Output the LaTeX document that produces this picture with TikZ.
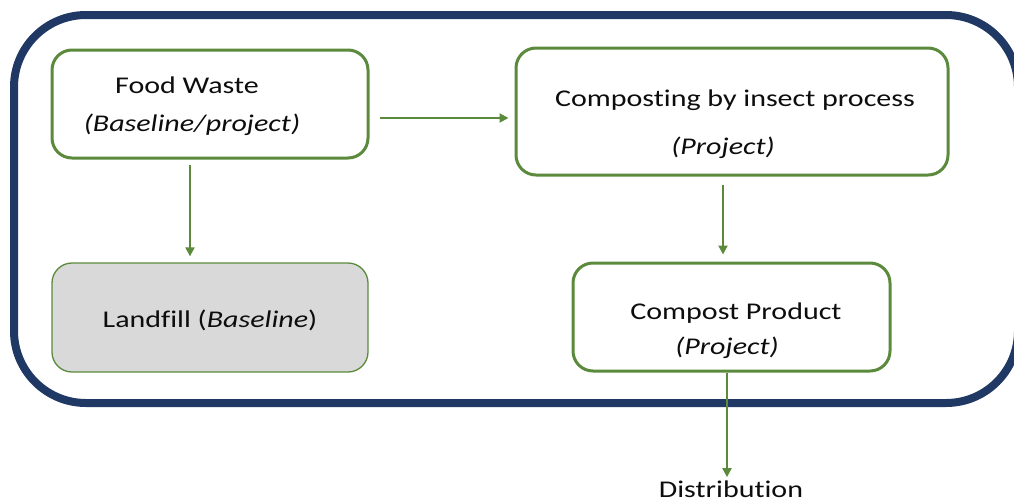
\documentclass[tikz,border=0pt]{standalone}
\usepackage{fontspec}
\setmainfont{Carlito}[FakeStretch=1.25,Ligatures=NoCommon]
\usetikzlibrary{arrows.meta}
\definecolor{navy}{HTML}{203864}
\definecolor{grn}{HTML}{5B8A3C}
\definecolor{lgray}{HTML}{D9D9D9}
\definecolor{txt}{HTML}{0D0D0D}
\begin{document}
\begin{tikzpicture}[x=1pt,y=-1pt,
  box/.style={draw=grn,line width=3pt,rounded corners=20pt,fill=white,inner sep=0pt},
  graybox/.style={draw=grn,line width=1.3pt,rounded corners=20pt,fill=lgray,inner sep=0pt},
  lbl/.style={font=\fontsize{24}{28}\selectfont,text=txt,inner sep=0pt},
  arr/.style={draw=grn,line width=2pt,-{Triangle[length=9pt,width=9pt]}}]
\useasboundingbox (0,0) rectangle (1014,501);
\begin{scope}
\clip (0,0) rectangle (1014,501);
\draw[navy,line width=8pt,rounded corners=72pt] (14,15) rectangle (1018,403);
\end{scope}
\node[box,minimum width=316pt,minimum height=108pt] (fw) at (210,104) {};
\node[box,minimum width=432pt,minimum height=127pt] (comp) at (732,111.5) {};
\node[graybox,minimum width=316pt,minimum height=109pt] (lf) at (210,317.5) {};
\node[box,minimum width=317pt,minimum height=108pt] (cp) at (731.5,317) {};
\node[lbl] (fwa) at (187,85) {Food Waste};
\node[lbl] (fwb) at (192,125) {\itshape (Baseline/project)};
\node[lbl] (coa) at (735,100) {Composting by insect process};
\node[lbl] (cob) at (723,148) {\itshape (Project)};
\node[lbl] (lfa) at (210,320) {Landfill (\textit{Baseline})};
\node[lbl] (cpa) at (736,313) {Compost Product};
\node[lbl] (cpb) at (727,348) {\itshape (Project)};
\node[lbl,anchor=base,inner sep=3pt] (dist) at (731,497) {Distribution};
\draw[arr] ([xshift=-20pt,yshift=-5pt]fw.south) -- ([xshift=-20pt,yshift=6pt]lf.north);
\draw[arr] ([xshift=10pt,yshift=-14pt]fw.east) -- ([xshift=-6pt,yshift=-6.5pt]comp.west);
\draw[arr] ([xshift=-9pt,yshift=-8pt]comp.south) -- ([xshift=-8.5pt,yshift=7pt]cp.north);
\draw[arr] ([xshift=-4.5pt]cp.south) -- ([xshift=-4pt]dist.north);
\end{tikzpicture}
\end{document}
